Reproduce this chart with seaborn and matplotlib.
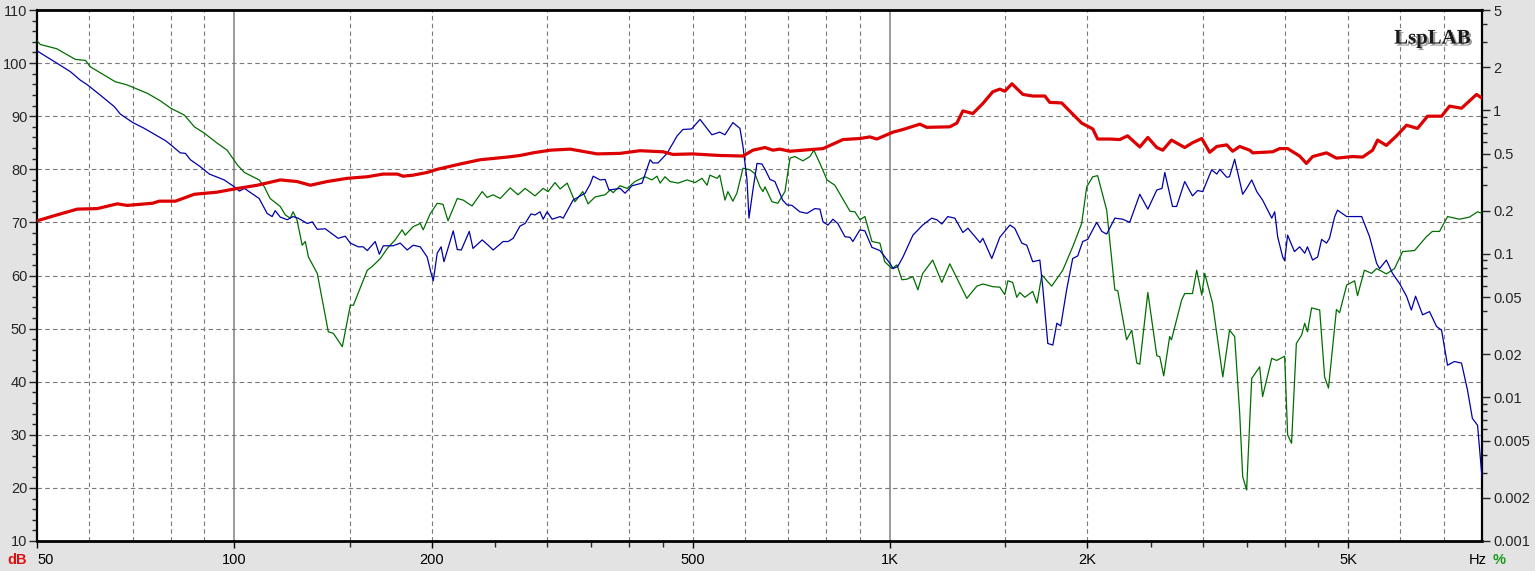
import matplotlib
matplotlib.use("Agg")
import matplotlib.pyplot as plt
import matplotlib.patheffects as pe
from matplotlib.ticker import FixedLocator, FixedFormatter, NullFormatter, LogLocator
import numpy as np
import pandas as pd
import seaborn as sns

# ---------------- data ----------------
# SPL response (dB, left axis)
red_freq = [50, 53.6, 57.6, 61.8, 66.3, 68.6, 75, 76.8, 81.3, 86.9, 94.2, 100, 108.4, 117.5, 124.6,
            130.6, 138.6, 148.7, 159.5, 168.7, 177.2, 180.9, 187.4, 196.8, 203.9, 221.1, 237.1,
            260.7, 272.7, 285.5, 303.2, 325.3, 357.6, 387.6, 415.4, 450.8, 466.6, 500, 550, 596.8,
            618, 644.8, 663, 679, 704, 736.6, 790.5, 848, 900, 932, 955, 1011, 1047, 1111, 1138,
            1234, 1265, 1292, 1338, 1386, 1435, 1471, 1497, 1535, 1595, 1651, 1723, 1753, 1828,
            1900, 1961, 2039, 2074, 2164, 2242, 2304, 2405, 2474, 2553, 2607, 2688, 2816, 2894,
            2990, 3074, 3152, 3264, 3332, 3416, 3538, 3576, 3836, 3930, 4042, 4216, 4318, 4413,
            4634, 4798, 5079, 5261, 5448, 5544, 5718, 5926, 6137, 6379, 6607, 6941, 7138, 7445,
            7848, 8000]
red_db = [70.3, 71.4, 72.5, 72.6, 73.5, 73.2, 73.6, 74.0, 74.0, 75.3, 75.7, 76.3, 77.0, 78.0, 77.7,
          77.0, 77.7, 78.3, 78.6, 79.1, 79.1, 78.7, 78.9, 79.4, 80.0, 81.0, 81.8,
          82.3, 82.6, 83.1, 83.6, 83.8, 82.9, 83.0, 83.5, 83.3, 82.8, 82.9, 82.6, 82.5,
          83.6, 84.1, 83.6, 83.8, 83.4, 83.6, 83.9, 85.6, 85.8, 86.1, 85.7, 87.0, 87.5, 88.5, 87.9,
          88.0, 88.7, 91.0, 90.5, 92.4, 94.6, 95.1, 94.7, 96.1, 94.1, 93.8, 93.8, 92.6, 92.5,
          90.4, 88.7, 87.6, 85.7, 85.7, 85.6, 86.3, 84.2, 86.0, 84.1, 83.6, 85.5, 84.1, 85.0,
          85.8, 83.2, 84.3, 84.6, 83.4, 84.3, 83.6, 83.1, 83.3, 83.9, 83.9, 82.5, 81.1, 82.4,
          83.1, 82.1, 82.4, 82.3, 83.6, 85.5, 84.5, 86.3, 88.3, 87.7, 90.0, 90.0, 91.9, 91.5,
          94.1, 93.4]

# 2nd harmonic distortion (green), level read on the dB grid
green_freq = [50, 50.6, 53.6, 57.2, 59.3, 60.3, 65.8, 68.6, 73.7, 77.1, 80, 83.9, 86.9, 90, 94.2,
              97.5, 101.1, 103.6, 109.1, 111.1, 113.4, 117.5, 119.6, 121.7, 122.9, 124.6, 126.9,
              128.3, 129.7, 133.8, 139.1, 141.6, 146.1, 150.3, 151.9, 159.5, 162.3, 167.0, 171.1,
              175.9, 180.3, 182.2, 187.4, 192.1, 194.1, 198.9, 203.9, 208.1, 211.8, 218.8, 223.4,
              230.4, 238.8, 243.0, 248.2, 254.4, 263.5, 270.8, 277.6, 287.5, 295.8, 301.0, 308.4,
              314.0, 321.9, 330.8, 340, 346.4, 355.1, 367.7, 374.3, 378.3, 387.6, 397.2, 408.4,
              422.9, 433.4, 441.3, 446.1, 453.9, 461.8, 475.2, 490.3, 504.4, 516.7, 526.1, 531.3,
              544.8, 550, 560.2, 566.0, 576, 584.2, 596.8, 611.6, 622.1, 633.5, 640.2, 644.8,
              660.7, 674.4, 691.6, 704, 716.2, 736.6, 755, 765.5, 782, 801.7, 824.1, 869, 884.2,
              900, 915.8, 938.7, 965.3, 982, 1007, 1025, 1043, 1061, 1084, 1103, 1122, 1162, 1200,
              1234, 1310, 1357, 1386, 1435, 1471, 1497, 1513, 1539, 1561, 1578, 1606, 1651, 1676,
              1705, 1765, 1835, 1900, 1961, 1996, 2039, 2074, 2141, 2203, 2226, 2296, 2338, 2380,
              2405, 2474, 2553, 2580, 2616, 2671, 2688, 2786, 2816, 2894, 2937, 2990, 3021, 3105,
              3219, 3296, 3356, 3416, 3452, 3500, 3538, 3563, 3664, 3702, 3823, 3889, 4000, 4042,
              4098, 4168, 4246, 4292, 4334, 4397, 4524, 4603, 4666, 4798, 4851, 4974, 5114, 5167,
              5293, 5429, 5525, 5718, 5884, 6053, 6313, 6580, 6721, 6892, 7088, 7392, 7655, 7876,
              8000]
green_db = [104.2, 103.5, 102.7, 100.7, 100.5, 99.3, 96.5, 95.9, 94.3, 92.9, 91.5, 90.2, 88.0, 86.8,
            84.9, 83.6, 80.8, 79.4, 78.0, 76.7, 74.5, 73.0, 71.4, 70.8, 72.0, 70.5, 65.7,
            66.4, 63.5, 60.4, 49.4, 49.1, 46.6, 54.4, 54.4, 61.0, 61.7, 63.2, 65.1,
            66.7, 68.6, 67.6, 69.2, 69.8, 68.6, 71.6, 73.6, 73.4, 70.3, 74.5, 74.2,
            73.1, 75.8, 74.7, 75.2, 74.5, 76.5, 75.2, 76.4, 75.0, 76.4, 75.8, 77.5,
            76.3, 77.4, 73.9, 75.8, 73.5, 74.8, 75.2, 76.1, 75.6, 76.9, 76.4, 77.7,
            78.6, 78.0, 78.7, 77.4, 78.6, 77.7, 77.4, 78.0, 77.5, 78.3, 77.0, 78.9,
            78.3, 78.9, 74.2, 75.8, 74.0, 75.5, 80.2, 79.9, 79.2, 76.7, 75.8, 76.7,
            73.9, 73.6, 75.8, 82.1, 82.4, 81.6, 82.4, 83.6, 81.1, 78.0, 77.0, 72.1, 72.0,
            70.5, 71.1, 66.4, 66.1, 62.6, 61.3, 62.0, 59.2, 59.3, 59.8, 57.3, 60.4, 62.9, 58.7,
            62.2, 55.7, 58.0, 58.4, 57.9, 57.8, 56.4, 59.0, 58.7, 55.9, 56.8, 55.9, 57.0, 54.8,
            60.1, 58.0, 61.0, 65.4, 69.8, 76.7, 78.6, 78.8, 72.3, 57.3, 57.1, 47.9, 49.7, 43.5,
            43.3, 56.8, 44.9, 44.7, 41.1, 48.5, 47.9, 55.4, 56.6, 56.6, 61.0, 56.3, 60.4, 54.8,
            40.9, 49.7, 48.5, 34.0, 22.1, 19.6, 32.2, 40.6, 42.8, 37.2, 44.4, 44.0, 44.8, 30.0,
            28.4, 47.2, 48.8, 51.0, 49.4, 53.9, 53.5, 40.9, 38.8, 53.6, 53.0, 58.2, 59.0, 56.2,
            61.0, 60.4, 61.3, 60.3, 61.3, 64.5, 64.7, 67.3, 68.3, 68.3, 71.1, 70.6, 71.0, 72.0,
            71.7]

# 3rd harmonic distortion (blue), level read on the dB grid
blue_freq = [50, 53.6, 56.2, 58.2, 59.7, 62.4, 65.6, 67.0, 70.0, 72.9, 75.5, 78.5, 80, 82.7, 84.2,
             85.7, 88.7, 91.6, 96.5, 100, 101.8, 103.6, 109.1, 112.2, 114.2, 115.4, 117.5, 120.4,
             122.9, 125.1, 129.2, 131.5, 133.8, 137.6, 144.0, 147.6, 150.3, 154.5, 157.2, 159.5,
             164.0, 166.4, 168.7, 174.7, 179.1, 183.5, 187.4, 192.1, 196.8, 199.6, 201.1, 203.9,
             206.7, 208.8, 215.7, 218.8, 221.9, 228.2, 231.2, 238.8, 243.9, 248.2, 257.0, 261.6,
             266.2, 272.7, 277.6, 283.5, 287.5, 292.6, 295.8, 300, 305.3, 314.0, 317.4, 328.6,
             342.8, 348.9, 352.6, 361.4, 367.7, 372.8, 387.6, 394.4, 404.2, 418.7, 430.7, 435.0,
             442.9, 457.1, 473.6, 483.3, 498.3, 513.2, 535.1, 550, 560.2, 576, 590.5, 596.8, 605.3,
             609.5, 618, 626.9, 637.9, 644.8, 656.2, 667.6, 686, 696.6, 708.8, 728.7, 747.1, 768,
             782, 790.5, 804.5, 818.5, 832.6, 853.9, 869, 877.9, 900, 915.8, 938.7, 965.3, 1000,
             1011, 1028, 1047, 1084, 1122, 1158, 1179, 1200, 1225, 1256, 1292, 1315, 1372, 1386,
             1430, 1471, 1524, 1550, 1589, 1617, 1651, 1693, 1711, 1741, 1772, 1797, 1822, 1860,
             1900, 1934, 1968, 2003, 2067, 2105, 2141, 2203, 2265, 2321, 2405, 2474, 2553, 2600,
             2626, 2698, 2737, 2816, 2894, 2947, 3000, 3095, 3152, 3185, 3264, 3296, 3356, 3452,
             3500, 3563, 3627, 3702, 3769, 3823, 3863, 3903, 3972, 4000, 4042, 4140, 4216, 4292,
             4334, 4413, 4492, 4555, 4634, 4682, 4769, 4816, 4974, 5243, 5390, 5525, 5583, 5718,
             5842, 5989, 6137, 6242, 6335, 6493, 6653, 6820, 6941, 7088, 7260, 7445, 7603, 7734,
             7876, 8000]
blue_db = [102.3, 100.0, 98.4, 96.8, 95.9, 94.0, 91.8, 90.4, 88.8, 87.7, 86.6, 85.4, 84.6, 83.1, 83.0,
           81.8, 80.5, 79.1, 78.0, 76.7, 75.9, 76.4, 74.5, 71.7, 71.1, 72.2, 71.0, 70.5,
           71.1, 70.8, 69.8, 70.1, 68.7, 68.8, 67.0, 67.4, 66.1, 65.4, 65.4, 64.7,
           66.4, 64.0, 65.6, 65.6, 66.1, 64.8, 65.7, 65.4, 63.5, 60.4, 59.0, 64.2,
           65.4, 62.6, 68.4, 64.9, 64.8, 68.3, 65.1, 66.7, 65.7, 64.8, 66.4, 66.4,
           67.0, 69.3, 69.8, 71.6, 71.4, 72.0, 70.6, 72.0, 70.6, 71.1, 70.8, 74.2,
           75.5, 77.2, 78.7, 78.0, 78.1, 76.1, 76.4, 75.5, 76.9, 77.4, 81.8, 81.2,
           81.2, 83.0, 86.3, 87.5, 87.6, 89.4, 86.5, 87.0, 86.5, 88.8, 87.7, 84.3, 78.0,
           70.8, 76.1, 81.1, 81.0, 80.0, 78.1, 77.7, 74.2, 73.3, 73.2, 72.0, 71.7, 72.6,
           72.5, 70.1, 69.5, 70.6, 69.8, 67.3, 67.2, 66.4, 68.6, 68.4, 65.3, 64.7, 62.3,
           61.3, 61.7, 63.5, 67.6, 69.5, 70.8, 70.5, 69.7, 71.1, 70.8, 68.1, 68.9, 66.2, 67.0,
           63.2, 67.2, 69.5, 68.9, 66.1, 65.7, 62.6, 62.9, 57.6, 47.2, 46.9, 51.0, 50.5, 57.3,
           63.2, 63.7, 66.4, 66.8, 70.0, 68.3, 67.8, 70.8, 70.6, 70.0, 75.3, 72.5, 76.1, 76.4,
           79.4, 73.0, 73.0, 77.7, 75.0, 76.0, 75.8, 79.9, 79.1, 80.0, 78.5, 78.6, 81.9, 75.3,
           76.4, 78.0, 75.8, 74.2, 72.3, 70.8, 72.0, 67.3, 63.5, 62.8, 67.6, 64.5, 65.4, 64.2,
           65.4, 62.9, 63.5, 66.8, 66.1, 67.0, 71.1, 72.3, 71.1, 71.1, 67.3, 62.3, 61.3, 62.9,
           60.4, 58.5, 56.1, 53.5, 56.1, 52.6, 53.2, 50.4, 49.7, 43.1, 43.8, 43.5, 38.4, 33.1,
           31.8, 22.0]

x_tick_values = [50, 100, 200, 500, 1000, 2000, 5000]
x_tick_labels = ["50", "100", "200", "500", "1K", "2K", "5K"]
x_minor_ticks = [150, 250, 300, 350, 400, 450, 1500, 2500, 3000, 3500, 4000, 4500]
grid_dashed = [60, 70, 80, 90, 150, 200, 300, 400, 500, 600, 700, 800, 900,
               1500, 2000, 3000, 4000, 5000, 6000, 7000]
grid_solid = [100, 1000]
y_ticks = [10, 20, 30, 40, 50, 60, 70, 80, 90, 100, 110]
pct_ticks = [5, 2, 1, 0.5, 0.2, 0.1, 0.05, 0.02, 0.01, 0.005, 0.002, 0.001]
pct_labels = ["5", "2", "1", "0.5", "0.2", "0.1", "0.05", "0.02", "0.01", "0.005", "0.002", "0.001"]

# ---------------- styling ----------------
sns.set_style("white")
plt.rcParams['font.family'] = ['Liberation Sans', 'DejaVu Sans']

W, H = 1535, 571
fig = plt.figure(figsize=(W / 100, H / 100), dpi=100, facecolor='#e3e3e3')
ax = fig.add_axes([37 / W, 30 / H, 1445 / W, 531 / H])
ax.set_facecolor('white')

RED, GREEN, BLUE = '#dd0000', '#006e00', '#0000a8'

df_red = pd.DataFrame({'f': red_freq, 'v': red_db})
df_green = pd.DataFrame({'f': green_freq, 'v': green_db})
df_blue = pd.DataFrame({'f': blue_freq, 'v': blue_db})

ax.set_xscale('log')
ax.set_xlim(50, 8000)
ax.set_ylim(10, 110)

# grid
for g in grid_dashed:
    ax.axvline(g, color='#7a7a7a', lw=0.8, ls=(0, (4, 3)), zorder=1)
for g in grid_solid:
    ax.axvline(g, color='#8a8a8a', lw=1.2, ls='-', zorder=1)
for yv in y_ticks[1:-1]:
    ax.axhline(yv, color='#7a7a7a', lw=0.8, ls=(0, (4, 3)), zorder=1)

sns.lineplot(data=df_green, x='f', y='v', ax=ax, color=GREEN, lw=0.9, estimator=None, sort=False, zorder=3)
sns.lineplot(data=df_blue, x='f', y='v', ax=ax, color=BLUE, lw=0.9, estimator=None, sort=False, zorder=4)
sns.lineplot(data=df_red, x='f', y='v', ax=ax, color=RED, lw=2.3, estimator=None, sort=False, zorder=5)

ax.set_xlabel('')
ax.set_ylabel('')

# x ticks
ax.xaxis.set_major_locator(FixedLocator(x_tick_values))
ax.xaxis.set_major_formatter(FixedFormatter(x_tick_labels))
ax.xaxis.set_minor_locator(FixedLocator(x_minor_ticks))
ax.xaxis.set_minor_formatter(NullFormatter())
ax.tick_params(axis='x', which='major', direction='out', length=5, width=1, pad=4,
               labelsize=10.5, colors='black', bottom=True)
ax.tick_params(axis='x', which='minor', direction='out', length=4, width=1, bottom=True)
for lbl in ax.get_xticklabels():
    if lbl.get_text() == "50":
        lbl.set_horizontalalignment('left')

# y ticks (left)
ax.yaxis.set_major_locator(FixedLocator(y_ticks))
ax.yaxis.set_minor_locator(FixedLocator(list(range(12, 110, 2))))
ax.yaxis.set_minor_formatter(NullFormatter())
ax.tick_params(axis='y', which='major', direction='out', length=6, width=1, pad=1,
               labelsize=10.5, left=True)
ax.tick_params(axis='y', which='minor', direction='out', length=3.5, width=1, left=True)

for s in ax.spines.values():
    s.set_visible(True)
    s.set_color('black')
    s.set_linewidth(1.6)
ax.spines['top'].set_linewidth(2.0)
ax.spines['bottom'].set_linewidth(2.0)

# right axis (%)
ax2 = ax.twinx()
ax2.set_yscale('log')
ax2.set_ylim(0.001, 5)
ax2.yaxis.set_major_locator(FixedLocator(pct_ticks))
ax2.yaxis.set_major_formatter(FixedFormatter(pct_labels))
ax2.yaxis.set_minor_locator(LogLocator(base=10, subs=np.arange(2, 10)))
ax2.yaxis.set_minor_formatter(NullFormatter())
ax2.tick_params(axis='y', which='major', direction='out', length=6, width=1, pad=2,
                labelsize=10.5, right=True)
ax2.tick_params(axis='y', which='minor', direction='out', length=3.5, width=1, right=True)
for s in ax2.spines.values():
    s.set_visible(False)
ax2.grid(False)

# logo
ax.text(0.9925, 0.965, 'LspLAB', transform=ax.transAxes, ha='right', va='top',
        fontsize=15, fontweight='bold', family=['Liberation Serif', 'DejaVu Serif'],
        color='#1a1a1a', zorder=10,
        path_effects=[pe.withSimplePatchShadow(offset=(1.5, -1.5), shadow_rgbFace='#8a8a8a', alpha=0.8)])

# unit labels
fig.text(17 / W, 1 - 560 / H, 'dB', color='#e01010', fontsize=10.5, fontweight='bold',
         ha='center', va='center')
fig.text(1478 / W, 1 - 560 / H, 'Hz', color='black', fontsize=10.5, ha='center', va='center')
fig.text(1499 / W, 1 - 560 / H, '%', color='#1a9a1a', fontsize=10.5, fontweight='bold',
         ha='center', va='center')

fig.savefig('out.png', dpi=100, facecolor=fig.get_facecolor())
